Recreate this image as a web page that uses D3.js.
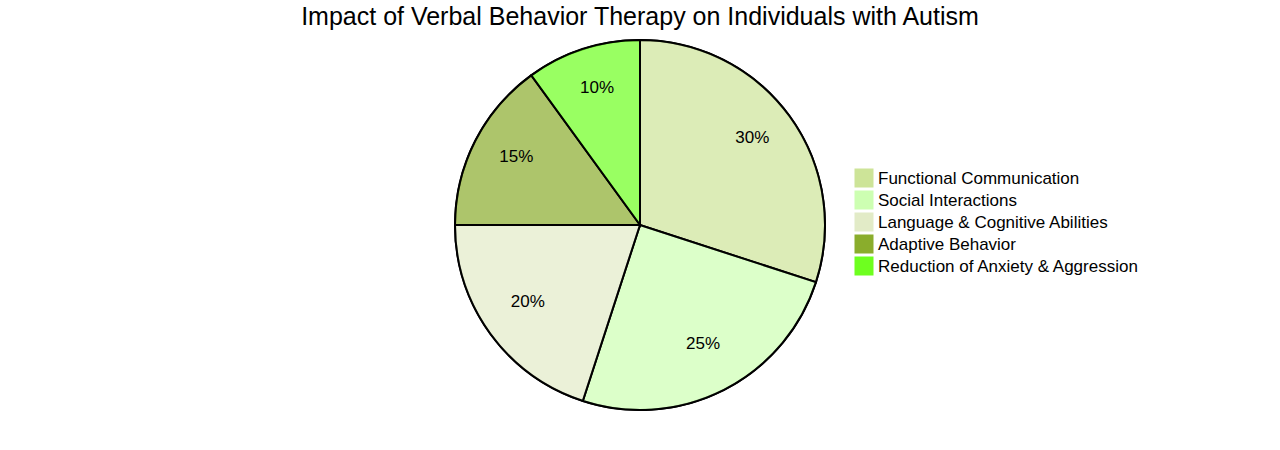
<!DOCTYPE html>
<html>
<head>
<meta charset="utf-8">
<script src="https://cdn.jsdelivr.net/npm/d3@7"></script>
<style>
  body { margin: 0; background: #fff; }
  svg { display: block; }
</style>
</head>
<body>
<div id="chart"></div>
<script>
const title = 'Impact of Verbal Behavior Therapy on Individuals with Autism';
const categories = [
    'Functional Communication',
    'Social Interactions',
    'Language & Cognitive Abilities',
    'Adaptive Behavior',
    'Reduction of Anxiety & Aggression'
];
const values = [30, 25, 20, 15, 10];
const colors = ['#cde498', '#cdffb2', '#e2ebc7', '#8aad2c', '#6eff1f'];

const width = 1280;
const height = 450;
const cx = 640;
const cy = 225;
const radius = 185;

const svg = d3.select('#chart').append('svg')
    .attr('width', width)
    .attr('height', height);

svg.append('text')
    .attr('x', cx)
    .attr('y', 25)
    .attr('text-anchor', 'middle')
    .attr('font-family', '"Liberation Sans Narrow", "Arial Narrow", "Liberation Sans", sans-serif')
    .attr('font-size', 25)
    .attr('fill', '#000')
    .text(title);

const data = categories.map((c, i) => ({ label: c, value: values[i], color: colors[i] }));

const pie = d3.pie().value(d => d.value).sort(null);
const arcs = pie(data);
const arc = d3.arc().innerRadius(0).outerRadius(radius);
const labelArc = d3.arc().innerRadius(radius * 0.75).outerRadius(radius * 0.75);
const total = d3.sum(values);

const g = svg.append('g').attr('transform', `translate(${cx},${cy})`);

g.append('circle')
    .attr('r', radius)
    .attr('fill', 'none')
    .attr('stroke', '#000')
    .attr('stroke-width', 2);

g.selectAll('path.slice')
    .data(arcs)
    .enter()
    .append('path')
    .attr('class', 'slice')
    .attr('d', arc)
    .attr('fill', d => d.data.color)
    .attr('fill-opacity', 0.7)
    .attr('stroke', '#000')
    .attr('stroke-width', 2);

// labels sit on the baseline at the centroid, like mermaid does
g.selectAll('text.pct')
    .data(arcs)
    .enter()
    .append('text')
    .attr('class', 'pct')
    .attr('transform', d => `translate(${labelArc.centroid(d)})`)
    .attr('text-anchor', 'middle')
    .attr('font-family', '"Liberation Sans", Arial, sans-serif')
    .attr('font-size', 17)
    .attr('fill', '#000')
    .text(d => Math.round(d.data.value / total * 100) + '%');

// legend
const legend = svg.append('g').attr('transform', 'translate(855,169)');
const items = legend.selectAll('g')
    .data(data)
    .enter()
    .append('g')
    .attr('transform', (d, i) => `translate(0,${i * 22})`);

items.append('rect')
    .attr('width', 18)
    .attr('height', 18)
    .attr('fill', d => d.color)
    .attr('stroke', d => d.color);

items.append('text')
    .attr('x', 23)
    .attr('y', 9)
    .attr('dy', '0.35em')
    .attr('font-family', '"Liberation Sans", Arial, sans-serif')
    .attr('font-size', 17)
    .attr('fill', '#000')
    .text(d => d.label);
</script>
</body>
</html>
